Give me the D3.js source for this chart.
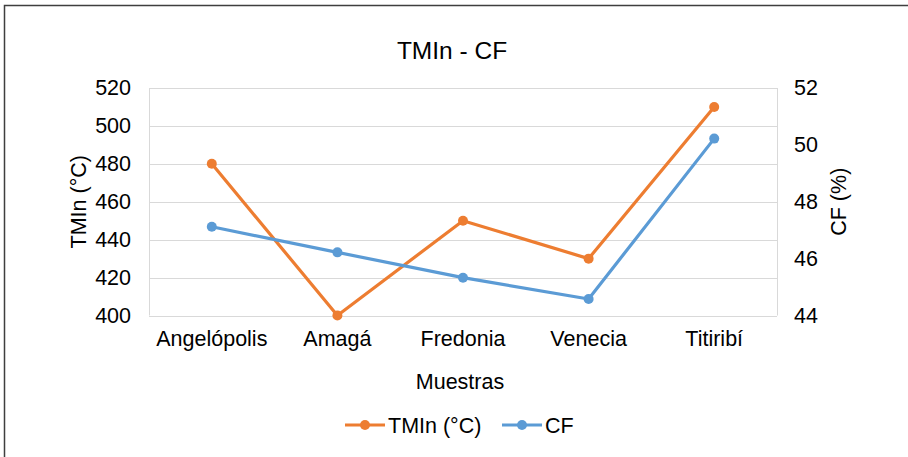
<!DOCTYPE html>
<html><head><meta charset="utf-8">
<script src="https://cdn.jsdelivr.net/npm/d3@7"></script>
<style>body{margin:0;background:#fff;} text{font-family:"Liberation Sans",Arial,sans-serif;fill:#000;}</style>
</head><body><svg id="c" width="908" height="457"></svg>
<script>
const categories = ["Angelópolis","Amagá","Fredonia","Venecia","Titiribí"];
const tmin = [480,400,450,430,510];
const cf = [47.12,46.22,45.33,44.58,50.22];
const leftTicks = [400,420,440,460,480,500,520];
const rightTicks = [44,46,48,50,52];
const title = "TMIn - CF";
const xTitle = "Muestras";
const yLeftTitle = "TMIn (°C)";
const yRightTitle = "CF (%)";
const seriesNames = ["TMIn (°C)","CF"];
const colors = ["#ed7d31","#5b9bd5"];

const svg = d3.select("#c");
const L=149, R=777, T=88, B=315.5;
svg.append("rect").attr("width",908).attr("height",457).attr("fill","#fff");
svg.append("path").attr("d","M4.5,457 L4.5,5.5 L908,5.5").attr("fill","none").attr("stroke","#3f3f3f").attr("stroke-width",1.5);

const x = d3.scaleBand().domain(categories).range([L,R]);
const yL = d3.scaleLinear().domain([400,520]).range([B,T]);
const yR = d3.scaleLinear().domain([44,52]).range([B,T]);

svg.append("g").selectAll("line").data(leftTicks).join("line")
  .attr("x1",L).attr("x2",R).attr("y1",d=>Math.round(yL(d))+0.5).attr("y2",d=>Math.round(yL(d))+0.5)
  .attr("stroke","#d9d9d9").attr("stroke-width",1);
svg.append("line").attr("x1",L+0.5).attr("x2",L+0.5).attr("y1",T).attr("y2",B).attr("stroke","#d9d9d9");
svg.append("line").attr("x1",R+0.5).attr("x2",R+0.5).attr("y1",T).attr("y2",B).attr("stroke","#d9d9d9");

const fs = 21.5;
const axL = d3.axisLeft(yL).tickValues(leftTicks).tickSize(0).tickPadding(18);
const gL = svg.append("g").attr("transform",`translate(${L},0)`).call(axL);
const axR = d3.axisRight(yR).tickValues(rightTicks).tickSize(0).tickPadding(17);
const gR = svg.append("g").attr("transform",`translate(${R},0)`).call(axR);
const axB = d3.axisBottom(x).tickSize(0).tickPadding(15);
const gB = svg.append("g").attr("transform",`translate(0,${B})`).call(axB);
[gL,gR,gB].forEach(g=>{g.select(".domain").remove(); g.selectAll("text").style("font-size",fs+"px").style("font-family","'Liberation Sans',Arial,sans-serif").attr("fill","#000");});

svg.append("text").attr("x",452).attr("y",59).attr("text-anchor","middle").style("font-size","24.5px").text(title);
svg.append("text").attr("x",460).attr("y",389).attr("text-anchor","middle").style("font-size",fs+"px").text(xTitle);
svg.append("text").attr("transform",`translate(86,${(T+B)/2}) rotate(-90)`).attr("text-anchor","middle").style("font-size",fs+"px").text(yLeftTitle);
svg.append("text").attr("transform",`translate(846,${(T+B)/2}) rotate(-90)`).attr("text-anchor","middle").style("font-size",fs+"px").text(yRightTitle);

const cx = d=>x(d)+x.bandwidth()/2;
const data = [tmin.map((v,i)=>[cx(categories[i]),yL(v)]), cf.map((v,i)=>[cx(categories[i]),yR(v)])];
data.forEach((pts,si)=>{
  svg.append("path").attr("d",d3.line()(pts)).attr("fill","none").attr("stroke",colors[si]).attr("stroke-width",3.2).attr("stroke-linejoin","round");
  svg.append("g").selectAll("circle").data(pts).join("circle").attr("cx",d=>d[0]).attr("cy",d=>d[1]).attr("r",5).attr("fill",colors[si]);
});

const leg = [{x:345,name:seriesNames[0],c:colors[0]},{x:502,name:seriesNames[1],c:colors[1]}];
const ly=425;
leg.forEach(l=>{
  svg.append("line").attr("x1",l.x).attr("x2",l.x+40).attr("y1",ly).attr("y2",ly).attr("stroke",l.c).attr("stroke-width",3.2);
  svg.append("circle").attr("cx",l.x+20).attr("cy",ly).attr("r",5).attr("fill",l.c);
  svg.append("text").attr("x",l.x+43).attr("y",ly+7.5).style("font-size",fs+"px").text(l.name);
});
</script></body></html>
